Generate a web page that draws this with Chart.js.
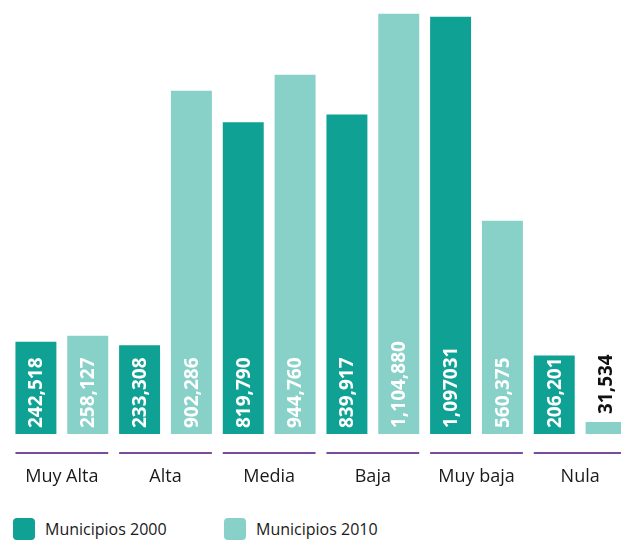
<!DOCTYPE html>
<html>
<head>
<meta charset="utf-8">
<script src="https://cdn.jsdelivr.net/npm/chart.js@4/dist/chart.umd.min.js"></script>
<style>
    html, body { margin: 0; padding: 0; background: #fff; overflow: hidden; }
    #wrap { position: relative; width: 632px; height: 504px; }
    #legend { position: absolute; top: 518px; left: 0; width: 621px; height: 22px; font-family: "Open Sans", sans-serif; font-size: 16px; color: #1a1a1a; }
    .item { position: absolute; top: 0; height: 22px; display: flex; align-items: center; }
    .box { width: 22px; height: 22px; border-radius: 4px; margin-right: 10px; }
</style>
</head>
<body>
<div id="wrap"><canvas id="chart"></canvas></div>
<div id="legend"></div>
<script>
// #############################################################################
// Data
const categories = ["Muy Alta", "Alta", "Media", "Baja", "Muy baja", "Nula"];
const seriesNames = ["Municipios 2000", "Municipios 2010"];
const values2000 = [242518, 233308, 819790, 839917, 1097031, 206201];
const values2010 = [258127, 902286, 944760, 1104880, 560375, 31534];
// Labels as printed on the bars
const labels2000 = ["242,518", "233,308", "819,790", "839,917", "1,097031", "206,201"];
const labels2010 = ["258,127", "902,286", "944,760", "1,104,880", "560,375", "31,534"];

const darkTeal = "#0fa193";
const lightTeal = "#87d1c8";
const purple = "#7a4c9c";

// #############################################################################
// Plugins

// Purple rule under each category group
const groupLines = {
    id: "groupLines",
    afterDatasetsDraw(chart) {
        const ctx = chart.ctx;
        const m0 = chart.getDatasetMeta(0).data;
        const m1 = chart.getDatasetMeta(1).data;
        const y = chart.chartArea.bottom + 19;
        ctx.save();
        ctx.strokeStyle = purple;
        ctx.lineWidth = 2;
        m0.forEach((bar, i) => {
            const left = bar.x - bar.width / 2;
            const right = m1[i].x + m1[i].width / 2;
            ctx.beginPath();
            ctx.moveTo(left, y);
            ctx.lineTo(right, y);
            ctx.stroke();
        });
        ctx.restore();
    },
};

// Vertical value labels inside the bars (above when the bar is too short)
const valueLabels = {
    id: "valueLabels",
    afterDatasetsDraw(chart) {
        const ctx = chart.ctx;
        const texts = [labels2000, labels2010];
        ctx.save();
        ctx.font = "bold 19px 'Open Sans', sans-serif";
        ctx.textBaseline = "middle";
        ctx.textAlign = "left";
        chart.data.datasets.forEach((ds, d) => {
            chart.getDatasetMeta(d).data.forEach((bar, i) => {
                const txt = texts[d][i];
                const h = bar.base - bar.y;
                let start, color;
                if (h > 40) {
                    start = bar.base - 6;
                    color = "#ffffff";
                } else {
                    start = bar.y - 8;
                    color = "#111111";
                }
                ctx.save();
                ctx.translate(bar.x, start);
                ctx.rotate(-Math.PI / 2);
                ctx.fillStyle = color;
                ctx.fillText(txt, 0, 1);
                ctx.restore();
            });
        });
        ctx.restore();
    },
};

// #############################################################################
// Chart
const ctx = document.getElementById("chart").getContext("2d");
const chart = new Chart(ctx, {
    type: "bar",
    data: {
        labels: categories,
        datasets: [
            { label: seriesNames[0], data: values2000, backgroundColor: darkTeal },
            { label: seriesNames[1], data: values2010, backgroundColor: lightTeal },
        ],
    },
    options: {
        responsive: true,
        maintainAspectRatio: false,
        animation: false,
        layout: { padding: { left: 10, right: 0, top: 0, bottom: 0 } },
        datasets: {
            bar: { categoryPercentage: 1.0, barPercentage: 0.79 },
        },
        plugins: {
            legend: { display: false },
            tooltip: { enabled: false },
        },
        scales: {
            x: {
                grid: { display: false, drawTicks: false },
                border: { display: false },
                ticks: {
                    padding: 32,
                    color: "#1a1a1a",
                    font: { family: "'Open Sans', sans-serif", size: 18 },
                },
                afterFit(axis) {
                    axis.height = 70;
                    // keep the label overhang from shrinking the plot
                    axis.paddingLeft = 0;
                    axis.paddingRight = 0;
                },
            },
            y: {
                display: false,
                min: 0,
                max: 1141000,
            },
        },
    },
    plugins: [groupLines, valueLabels],
});

// HTML legend
const legendEl = document.getElementById("legend");
const legendLeft = [13, 224];
seriesNames.forEach((name, i) => {
    const item = document.createElement("div");
    item.className = "item";
    item.style.left = legendLeft[i] + "px";
    const box = document.createElement("div");
    box.className = "box";
    box.style.background = [darkTeal, lightTeal][i];
    const txt = document.createElement("span");
    txt.textContent = name;
    item.appendChild(box);
    item.appendChild(txt);
    legendEl.appendChild(item);
});
</script>
</body>
</html>
